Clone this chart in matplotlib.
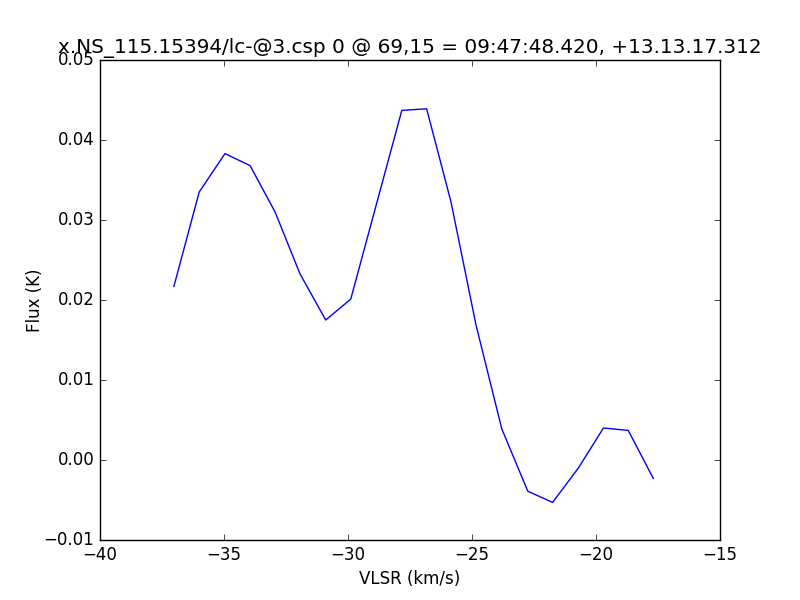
import matplotlib
matplotlib.use("Agg")
import matplotlib.pyplot as plt

vlsr = [-37.02, -36.0, -34.96, -33.95, -32.94, -31.94, -30.9, -29.89,
        -27.83, -26.83, -25.85, -24.84, -23.8, -22.75, -21.75, -20.71,
        -19.7, -18.7, -17.69]
flux = [0.0217, 0.0335, 0.0383, 0.0368, 0.0310, 0.0233, 0.0175, 0.0201,
        0.0437, 0.0439, 0.0323, 0.0169, 0.0039, -0.0039, -0.0053, -0.0010,
        0.0040, 0.0037, -0.0023]

plt.style.use('classic')
fig = plt.figure(figsize=(8, 6), dpi=100)
ax = fig.add_axes([0.125, 0.1, 0.775, 0.8])
ax.plot(vlsr, flux, color='blue', linewidth=1)
ax.set_xlim(-40, -15)
ax.set_ylim(-0.01, 0.05)
ax.set_xticks([-40, -35, -30, -25, -20, -15])
ax.set_yticks([-0.01, 0.0, 0.01, 0.02, 0.03, 0.04, 0.05])
ax.set_yticklabels(['\u22120.01', '0.00', '0.01', '0.02', '0.03', '0.04', '0.05'])
ax.set_xticklabels(['\u221240', '\u221235', '\u221230', '\u221225', '\u221220', '\u221215'])
ax.set_xlabel('VLSR (km/s)')
ax.set_ylabel('Flux (K)', labelpad=0)
ax.set_title('x.NS_115.15394/lc-@3.csp 0 @ 69,15 = 09:47:48.420, +13.13.17.312')
fig.savefig('out.png', dpi=100, facecolor='white')
